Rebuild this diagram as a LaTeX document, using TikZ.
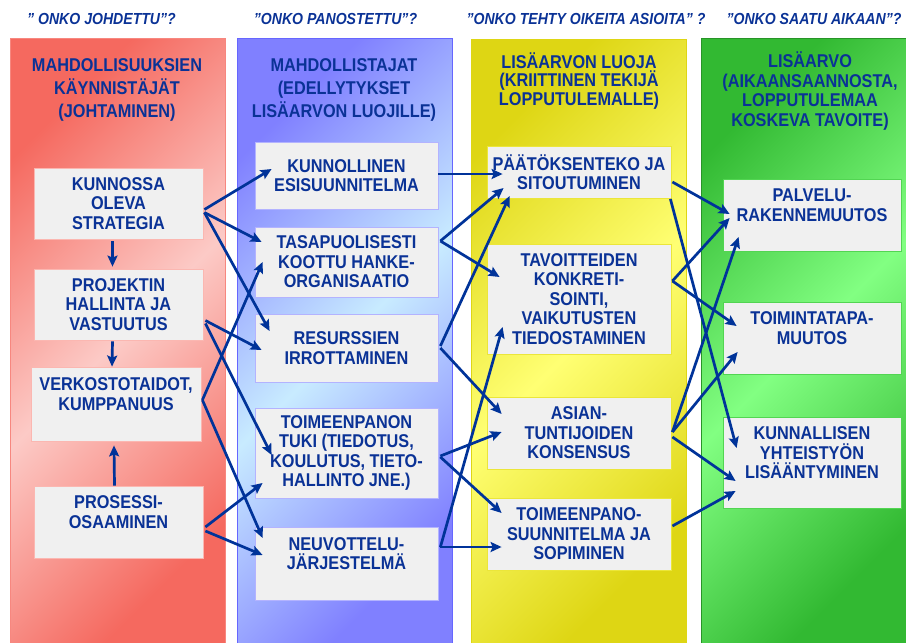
\documentclass[tikz,border=0pt]{standalone}
\usepackage{fontspec}
\setmainfont[FakeStretch=0.88]{Liberation Sans}
\usetikzlibrary{arrows.meta}
\definecolor{txtblue}{RGB}{10,50,150}
\definecolor{arrblue}{RGB}{0,51,153}
\definecolor{boxgray}{RGB}{240,240,240}
\definecolor{reddark}{RGB}{245,105,95}
\definecolor{redlight}{RGB}{252,202,198}
\definecolor{bluedark}{RGB}{128,128,255}
\definecolor{bluelight}{RGB}{200,235,255}
\definecolor{yeldark}{RGB}{222,214,20}
\definecolor{yellight}{RGB}{255,255,115}
\definecolor{grndark}{RGB}{50,185,50}
\definecolor{grnlight}{RGB}{130,255,130}

\begin{document}
\begin{tikzpicture}[x=1pt,y=-1pt,>={Stealth[length=11pt,width=10pt,inset=2pt]},
  every node/.style={text=txtblue,font=\bfseries\fontsize{18.5}{19.5}\selectfont,align=center},
  column/.style 2 args={left color=#1,right color=#1,middle color=#2,shading angle=45},
  box/.style={draw=#1,fill=boxgray,inner sep=0pt,line width=0.8pt},
  head/.style={font=\bfseries\itshape\fontsize{16}{18}\selectfont},
  arr/.style={->,draw=arrblue,line width=2.7pt}]
  \useasboundingbox (0,0) rectangle (906,643);
  % columns
  \shadedraw[column={reddark}{redlight},draw=reddark!80] (10,38) rectangle (225,645);
  \shadedraw[column={bluedark}{bluelight},draw=bluedark!80!blue] (237,38) rectangle (452,645);
  \shadedraw[column={yeldark}{yellight},draw=yeldark] (471,39) rectangle (686,645);
  \shadedraw[column={grndark}{grnlight},draw=grndark!80!black] (701,38) rectangle (910,645);
  % questions
  \node[head] (q1) at (101.5,19) {" ONKO JOHDETTU"?};
  \node[head] (q2) at (335.5,19) {"ONKO PANOSTETTU"?};
  \node[head] (q3) at (586,19) {"ONKO TEHTY OIKEITA ASIOITA" ?};
  \node[head] (q4) at (814,19) {"ONKO SAATU AIKAAN"?};
  % titles
  \node[font=\bfseries\fontsize{18.5}{23}\selectfont] (t1) at (117,90) {MAHDOLLISUUKSIEN\\KÄYNNISTÄJÄT\\(JOHTAMINEN)};
  \node[font=\bfseries\fontsize{18.5}{23}\selectfont] (t2) at (344,90) {MAHDOLLISTAJAT\\(EDELLYTYKSET\\LISÄARVON LUOJILLE)};
  \node[font=\bfseries\fontsize{18.5}{18.5}\selectfont] (t3) at (579,81) {LISÄARVON LUOJA\\(KRIITTINEN TEKIJÄ\\LOPPUTULEMALLE)};
  \node[font=\bfseries\fontsize{18.5}{19.5}\selectfont] (t4) at (810,91) {LISÄARVO\\(AIKAANSAANNOSTA,\\LOPPUTULEMAA\\KOSKEVA TAVOITE)};
  % leaders
  \node[box=redlight!80!reddark,minimum width=169,minimum height=71] (strat) at (118.5,203.5) {KUNNOSSA\\OLEVA\\STRATEGIA};
  \node[box=redlight!80!reddark,minimum width=169,minimum height=71] (proj) at (118.5,304.5) {PROJEKTIN\\HALLINTA JA\\VASTUUTUS};
  \node[box=redlight!80!reddark,minimum width=170,minimum height=74] (verk) at (116,404) {VERKOSTOTAIDOT,\\KUMPPANUUS\\~};
  \node[box=redlight!80!reddark,minimum width=169,minimum height=72] (pros) at (118.5,522) {PROSESSI-\\OSAAMINEN\\~};
  % enablers
  \node[box=bluedark!60,minimum width=183,minimum height=67] (kunnoll) at (346.5,175.5) {KUNNOLLINEN\\ESISUUNNITELMA};
  \node[box=bluedark!60,minimum width=183,minimum height=70] (tasap) at (346.5,262) {TASAPUOLISESTI\\KOOTTU HANKE-\\ORGANISAATIO};
  \node[box=bluedark!60,minimum width=183,minimum height=68] (resurs) at (346.5,348) {RESURSSIEN\\IRROTTAMINEN};
  \node[box=bluedark!60,minimum width=183,minimum height=90] (tuki) at (346.5,453) {TOIMEENPANON\\TUKI (TIEDOTUS,\\KOULUTUS, TIETO-\\HALLINTO JNE.)};
  \node[box=bluedark!60,minimum width=183,minimum height=73] (neuv) at (346.5,563.5) {NEUVOTTELU-\\JÄRJESTELMÄ\\~};
  % value creators
  \node[box=yeldark!60!yellight,minimum width=184,minimum height=52] (paatos) at (579,172) {PÄÄTÖKSENTEKO JA\\SITOUTUMINEN};
  \node[box=yeldark!60!yellight,minimum width=184,minimum height=110] (tavoit) at (579,299) {TAVOITTEIDEN\\KONKRETI-\\SOINTI,\\VAIKUTUSTEN\\TIEDOSTAMINEN};
  \node[box=yeldark!60!yellight,minimum width=184,minimum height=72] (asian) at (579,433) {ASIAN-\\TUNTIJOIDEN\\KONSENSUS};
  \node[box=yeldark!60!yellight,minimum width=184,minimum height=72] (toimsuun) at (579,534) {TOIMEENPANO-\\SUUNNITELMA JA\\SOPIMINEN};
  % added value
  \node[box=grndark!60!grnlight,minimum width=178,minimum height=72] (palvelu) at (812,215) {PALVELU-\\RAKENNEMUUTOS\\~};
  \node[box=grndark!60!grnlight,minimum width=178,minimum height=72] (toimint) at (812,338) {TOIMINTATAPA-\\MUUTOS\\~};
  \node[box=grndark!60!grnlight,minimum width=178,minimum height=91] (kunnal) at (812,462.5) {KUNNALLISEN\\YHTEISTYÖN\\LISÄÄNTYMINEN\\~};
  % arrows
  \draw[arr] ([shift={(-6,2)}]strat.south) -- ([shift={(-6,-2)}]proj.north);
  \draw[arr] ([shift={(-6,1)}]proj.south) -- ([shift={(-4,0)}]verk.north);
  \draw[arr] ([shift={(-4,0)}]pros.north) -- ([shift={(-2,4)}]verk.south);
  \draw[arr] ([shift={(1,6)}]strat.east) -- ([shift={(17,-6.5)}]kunnoll.west);
  \draw[arr] ([shift={(1,9)}]strat.east) -- ([shift={(7,-20)}]tasap.west);
  \draw[arr] ([shift={(1,9)}]strat.east) -- ([shift={(15,-17)}]resurs.west);
  \draw[arr] ([shift={(2,16)}]proj.east) -- ([shift={(7,2)}]resurs.west);
  \draw[arr] ([shift={(2,19)}]proj.east) -- ([shift={(17,2)}]tuki.west);
  \draw[arr] ([shift={(1,-4)}]verk.east) -- ([shift={(8,0)}]tasap.west);
  \draw[arr] ([shift={(1,-4)}]verk.east) -- ([shift={(8,-25.5)}]neuv.west);
  \draw[arr] ([shift={(2,5)}]pros.east) -- ([shift={(8,30)}]tuki.west);
  \draw[arr] ([shift={(2,9)}]pros.east) -- ([shift={(8,-8.5)}]neuv.west);
  \draw[arr] ([shift={(0,-1.5)}]kunnoll.east) -- ([shift={(16,2)}]paatos.west);
  \draw[arr] ([shift={(2,-21)}]tasap.east) -- ([shift={(17,16)}]paatos.west);
  \draw[arr] ([shift={(2,-21)}]tasap.east) -- ([shift={(13,-22)}]tavoit.west);
  \draw[arr] ([shift={(2,-2)}]resurs.east) -- ([shift={(23,24)}]paatos.west);
  \draw[arr] ([shift={(2,0)}]resurs.east) -- ([shift={(15,-19)}]asian.west);
  \draw[arr] ([shift={(2,3)}]tuki.east) -- ([shift={(15,-1)}]asian.west);
  \draw[arr] ([shift={(2,4)}]tuki.east) -- ([shift={(15,-21)}]toimsuun.west);
  \draw[arr] ([shift={(2,-16.5)}]neuv.east) -- ([shift={(16,28)}]tavoit.west);
  \draw[arr] ([shift={(2,-16.5)}]neuv.east) -- ([shift={(15,13)}]toimsuun.west);
  \draw[arr] ([shift={(1,10)}]paatos.east) -- ([shift={(7,-1)}]palvelu.west);
  \draw[arr] ([shift={(-1,27)}]paatos.east) -- ([shift={(14,-14.5)}]kunnal.west);
  \draw[arr] ([shift={(1,-18)}]tavoit.east) -- ([shift={(7,3)}]palvelu.west);
  \draw[arr] ([shift={(1,-18)}]tavoit.east) -- ([shift={(14,-12)}]toimint.west);
  \draw[arr] ([shift={(1,-1)}]asian.east) -- ([shift={(16,22)}]palvelu.west);
  \draw[arr] ([shift={(1,-1)}]asian.east) -- ([shift={(15,14)}]toimint.west);
  \draw[arr] ([shift={(1,4)}]asian.east) -- ([shift={(13,18.5)}]kunnal.west);
  \draw[arr] ([shift={(1,-8)}]toimsuun.east) -- ([shift={(13,28.5)}]kunnal.west);
\end{tikzpicture}
\end{document}
